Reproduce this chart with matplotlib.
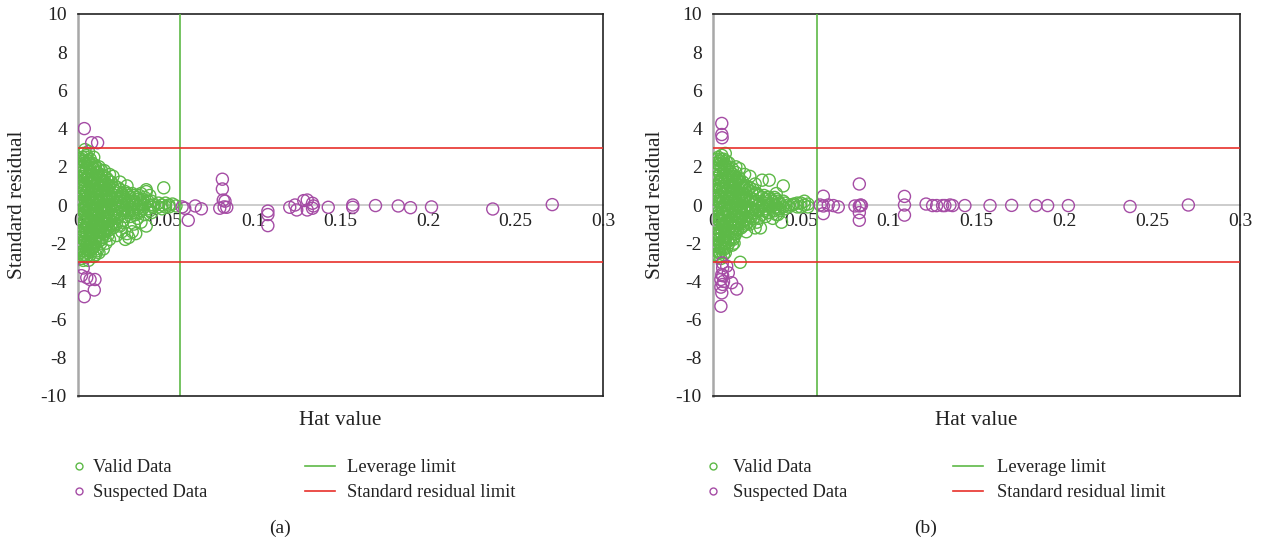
import matplotlib
matplotlib.use('Agg')
import matplotlib.pyplot as plt
from matplotlib.lines import Line2D

plt.rcParams['font.family'] = ['Liberation Serif', 'DejaVu Serif']
plt.rcParams['axes.unicode_minus'] = False

GREEN = '#5db947'
PURPLE = '#a54ca5'
RED = '#e8302a'
GRAY = '#a8a8a8'
ZERO_GRAY = '#c8c8c8'
TXT = '#222222'

x_ticks = [0, 0.05, 0.1, 0.15, 0.2, 0.25, 0.3]
x_tick_labels = ['0', '0.05', '0.1', '0.15', '0.2', '0.25', '0.3']
y_ticks = [-10, -8, -6, -4, -2, 0, 2, 4, 6, 8, 10]
y_tick_labels = ['-10', '-8', '-6', '-4', '-2', '0', '2', '4', '6', '8', '10']

leverage_limit_a = 0.058
leverage_limit_b = 0.059
residual_limit = 3.0

# ---------------- Panel (a) ----------------
valid_a_hat = [
    0.000, 0.000, 0.000,
    0.001, 0.001, 0.001, 0.001, 0.001, 0.001, 0.001, 0.001,
    0.002, 0.002, 0.002, 0.002, 0.002, 0.002, 0.002, 0.002, 0.002,
    0.003, 0.003, 0.003, 0.003, 0.003, 0.003, 0.003, 0.003, 0.003,
    0.004, 0.004, 0.004, 0.004, 0.004, 0.004, 0.004, 0.004, 0.004,
    0.005, 0.005, 0.005, 0.005, 0.005, 0.005, 0.005, 0.005, 0.005,
    0.006, 0.006, 0.006, 0.006, 0.006, 0.006, 0.006, 0.006, 0.006, 0.006,
    0.007, 0.007, 0.007, 0.007, 0.007, 0.007, 0.007, 0.007,
    0.008, 0.008, 0.008, 0.008, 0.008, 0.008, 0.008, 0.008,
    0.009, 0.009, 0.009, 0.009, 0.009, 0.009, 0.009, 0.009, 0.009,
    0.010, 0.010, 0.010, 0.010, 0.010, 0.010, 0.010,
    0.011, 0.011, 0.011, 0.011, 0.011, 0.011, 0.011,
    0.012, 0.012, 0.012, 0.012, 0.012, 0.012, 0.012,
    0.013, 0.013, 0.013, 0.013, 0.013, 0.013, 0.013,
    0.014, 0.014, 0.014, 0.014, 0.014, 0.014,
    0.015, 0.015, 0.015, 0.015, 0.015, 0.015,
    0.016, 0.016, 0.016, 0.016, 0.016,
    0.017, 0.017, 0.017, 0.017, 0.017, 0.017,
    0.018, 0.018, 0.018, 0.018, 0.018,
    0.019, 0.019, 0.019, 0.019, 0.019,
    0.020, 0.020, 0.020, 0.020, 0.020,
    0.022, 0.022, 0.022, 0.022, 0.022,
    0.024, 0.024, 0.024, 0.024, 0.024,
    0.026, 0.026, 0.026, 0.026,
    0.027,
    0.028, 0.028, 0.028, 0.028,
    0.030, 0.030, 0.030,
    0.031,
    0.032, 0.032, 0.032,
    0.034, 0.034, 0.034,
    0.036, 0.036, 0.036,
    0.038, 0.038, 0.038,
    0.039, 0.039,
    0.040, 0.040,
    0.043, 0.043,
    0.046, 0.046,
    0.048, 0.048,
    0.049,
    0.050, 0.050,
    0.052, 0.052,
    0.054,
    0.056,
    0.0015, 0.0015, 0.0015, 0.0015, 0.0015, 0.0015,
    0.0025, 0.0025, 0.0025, 0.0025, 0.0025, 0.0025, 0.0025,
    0.0035, 0.0035, 0.0035, 0.0035, 0.0035, 0.0035, 0.0035,
    0.0045, 0.0045, 0.0045, 0.0045, 0.0045, 0.0045,
    0.0055, 0.0055, 0.0055, 0.0055, 0.0055, 0.0055, 0.0055,
    0.0065, 0.0065, 0.0065, 0.0065, 0.0065,
    0.0075, 0.0075, 0.0075, 0.0075, 0.0075, 0.0075, 0.0075,
    0.0085, 0.0085, 0.0085, 0.0085, 0.0085, 0.0085,
    0.0095, 0.0095, 0.0095, 0.0095, 0.0095, 0.0095,
    0.0105, 0.0105, 0.0105, 0.0105, 0.0105, 0.0105, 0.0105,
    0.0115, 0.0115, 0.0115, 0.0115, 0.0115,
    0.0125, 0.0125, 0.0125, 0.0125, 0.0125,
    0.0135, 0.0135, 0.0135, 0.0135, 0.0135, 0.0135,
    0.0145, 0.0145, 0.0145, 0.0145, 0.0145,
    0.0155, 0.0155, 0.0155, 0.0155, 0.0155,
    0.0165, 0.0165, 0.0165, 0.0165, 0.0165,
    0.0175, 0.0175, 0.0175, 0.0175, 0.0175,
    0.021, 0.021, 0.021, 0.021, 0.021,
    0.023, 0.023, 0.023, 0.023,
    0.025, 0.025, 0.025, 0.025,
    0.027, 0.027, 0.027, 0.027,
    0.029, 0.029, 0.029, 0.029,
    0.031, 0.031, 0.031,
    0.033, 0.033, 0.033, 0.033,
    0.035, 0.035, 0.035,
    0.037, 0.037,
    0.041, 0.041, 0.041,
    0.042, 0.042,
    0.0145, 0.016, 0.018, 0.018, 0.022, 0.025, 0.028, 0.032,
    0.036, 0.039, 0.010, 0.012, 0.015, 0.020, 0.024,
]
valid_a_res = [
    0.0, 0.3, -0.4,
    1.8, 1.2, 0.6, -0.8, -1.4, -2.0, 2.3, -2.5,
    2.4, 1.5, 0.9, 0.1, -0.5, -1.1, -1.7, -2.2, -2.8,
    2.7, 2.0, 1.3, 0.5, -0.2, -0.9, -1.6, -2.4, -2.9,
    2.9, 2.2, 1.7, 1.0, 0.3, -0.4, -1.2, -1.9, -2.6,
    2.6, 1.9, 1.2, 0.7, 0.0, -0.7, -1.4, -2.1, -2.7,
    2.8, 2.3, 1.5, 0.8, 0.2, -0.6, -1.0, -1.8, -2.4, -2.9,
    2.4, 1.8, 1.1, 0.4, -0.3, -1.3, -2.0, -2.6,
    2.2, 1.6, 0.9, 0.1, -0.5, -1.1, -1.7, -2.3,
    2.5, 1.9, 1.3, 0.6, -0.2, -0.9, -1.5, -2.2, -2.7,
    2.0, 1.4, 0.8, 0.0, -0.7, -1.3, -2.0,
    1.7, 1.1, 0.4, -0.4, -1.0, -1.6, -2.4,
    2.0, 1.5, 0.9, 0.2, -0.5, -1.2, -1.9,
    1.6, 1.0, 0.5, -0.1, -0.8, -1.4, -2.0,
    1.3, 0.7, 0.0, -0.6, -1.1, -1.7,
    1.5, 0.9, 0.3, -0.3, -0.9, -1.5,
    1.1, 0.5, -0.1, -0.7, -1.3,
    1.3, 0.8, 0.2, -0.4, -1.0, -1.6,
    1.0, 0.4, -0.2, -0.8, -1.3,
    1.2, 0.6, 0.0, -0.5, -1.1,
    0.9, 0.3, -0.3, -0.9, -1.2,
    0.7, 0.2, -0.2, -0.7, -1.0,
    0.8, 0.4, -0.1, -0.5, -1.1,
    0.5, 0.0, -0.4, -0.8,
    -1.8,
    0.6, 0.1, -0.3, -1.5,
    0.4, -0.1, -0.6,
    -1.4,
    0.5, 0.0, -0.4,
    0.3, -0.2, -0.7,
    0.6, 0.1, -0.3,
    0.4, 0.0, -0.5,
    -1.1, 0.7,
    0.2, -0.2,
    0.0, -0.1,
    0.1, -0.1,
    0.0, -0.2,
    0.9,
    0.1, -0.1,
    0.0, -0.1,
    0.05,
    -0.05,
    2.0, 1.0, 0.2, -0.6, -1.5, -2.3,
    2.5, 1.7, 0.7, -0.3, -1.3, -2.0, -2.6,
    2.3, 1.5, 0.8, -0.1, -1.0, -1.8, -2.7,
    2.5, 1.4, 0.5, -0.6, -1.5, -2.3,
    2.2, 1.5, 0.4, -0.3, -1.1, -1.9, -2.5,
    2.0, 1.2, 0.0, -1.4, -2.2,
    2.1, 1.4, 0.7, 0.0, -0.8, -1.6, -2.3,
    1.9, 1.2, 0.4, -0.3, -1.4, -2.0,
    2.1, 1.0, 0.3, -0.5, -1.2, -1.8,
    1.7, 1.1, 0.4, -0.3, -1.0, -1.7, -2.3,
    1.9, 0.8, 0.0, -0.8, -1.4,
    1.3, 0.6, -0.2, -1.0, -1.6,
    1.8, 1.2, 0.3, -0.4, -1.1, -1.8,
    1.0, 0.4, -0.3, -0.9, -1.4,
    1.2, 0.6, 0.0, -0.6, -1.2,
    1.4, 0.8, 0.3, -0.4, -1.0,
    1.0, 0.5, -0.1, -0.7, -1.2,
    1.0, 0.5, 0.0, -0.5, -1.0,
    0.9, 0.4, -0.1, -0.6,
    0.6, 0.2, -0.3, -0.9,
    0.7, 0.3, -0.2, -0.6,
    0.5, 0.2, -0.4, -1.7,
    0.6, 0.2, -0.3,
    0.4, 0.1, -0.5, -1.5,
    0.5, 0.0, -0.4,
    0.3, -0.2,
    0.5, 0.0, -0.3,
    0.2, -0.4,
    -2.3, -2.0, 1.6, -1.8, -1.6, -1.4, 1.0, -1.0,
    -0.9, 0.8, -2.6, -2.5, 1.8, 1.5, 1.2,
]

suspect_a_hat = [
    0.0036, 0.0078, 0.0112,
    0.0020, 0.0030, 0.0050, 0.0069, 0.0097, 0.0036, 0.0093,
    0.0595, 0.0610, 0.0630, 0.0670, 0.0705,
    0.0810, 0.0825, 0.0825, 0.0830, 0.0835, 0.0840, 0.0850,
    0.1085, 0.1085, 0.1085,
    0.1210, 0.1240, 0.1250, 0.1290, 0.1310, 0.1310, 0.1340, 0.1340, 0.1345,
    0.1430, 0.1570, 0.1570, 0.1700, 0.1830, 0.1900, 0.2020, 0.2370, 0.2710,
]
suspect_a_res = [
    4.0, 3.26, 3.26,
    -3.7, -3.3, -3.8, -3.9, -3.9, -4.8, -4.45,
    -0.1, -0.17, -0.8, -0.05, -0.2,
    -0.17, 1.35, 0.84, 0.26, -0.1, 0.2, -0.12,
    -0.32, -0.5, -1.08,
    -0.12, 0.0, -0.26, 0.23, 0.26, -0.26, 0.09, -0.17, -0.05,
    -0.12, 0.0, -0.12, -0.03, -0.05, -0.14, -0.1, -0.21, 0.02,
]

# ---------------- Panel (b) ----------------
valid_b_hat = [
    0.000, 0.000, 0.000,
    0.001, 0.001, 0.001, 0.001, 0.001, 0.001,
    0.002, 0.002, 0.002, 0.002, 0.002, 0.002, 0.002,
    0.003, 0.003, 0.003, 0.003, 0.003, 0.003, 0.003, 0.003, 0.003,
    0.004, 0.004, 0.004, 0.004, 0.004, 0.004, 0.004, 0.004,
    0.005, 0.005, 0.005, 0.005, 0.005, 0.005, 0.005, 0.005,
    0.006, 0.006, 0.006, 0.006, 0.006, 0.006, 0.006, 0.006,
    0.007, 0.007, 0.007, 0.007, 0.007, 0.007, 0.007, 0.007, 0.007,
    0.008, 0.008, 0.008, 0.008, 0.008, 0.008, 0.008,
    0.009, 0.009, 0.009, 0.009, 0.009, 0.009, 0.009,
    0.010, 0.010, 0.010, 0.010, 0.010, 0.010,
    0.011, 0.011, 0.011, 0.011, 0.011, 0.011, 0.011,
    0.012, 0.012, 0.012, 0.012, 0.012, 0.012,
    0.013, 0.013, 0.013, 0.013, 0.013, 0.013,
    0.014, 0.014, 0.014, 0.014, 0.014,
    0.015, 0.015, 0.015, 0.015, 0.015, 0.0155,
    0.016, 0.016, 0.016, 0.016, 0.016,
    0.017, 0.017, 0.017, 0.017, 0.017,
    0.018, 0.018, 0.018, 0.018,
    0.019, 0.019, 0.019, 0.019, 0.019,
    0.020, 0.020, 0.020, 0.020,
    0.022, 0.022, 0.022, 0.022,
    0.024, 0.024, 0.024, 0.024,
    0.026, 0.026, 0.026, 0.026,
    0.027,
    0.028, 0.028, 0.028, 0.028,
    0.030, 0.030, 0.030,
    0.032, 0.032, 0.032, 0.032,
    0.034, 0.034,
    0.036, 0.036, 0.036,
    0.038, 0.038,
    0.039,
    0.040, 0.040, 0.040,
    0.043, 0.043,
    0.046,
    0.050, 0.050,
    0.052, 0.052,
    0.054, 0.054,
    0.0015, 0.0015, 0.0015, 0.0015, 0.0015, 0.0015,
    0.0025, 0.0025, 0.0025, 0.0025, 0.0025, 0.0025,
    0.0035, 0.0035, 0.0035, 0.0035, 0.0035, 0.0035,
    0.0045, 0.0045, 0.0045, 0.0045, 0.0045, 0.0045, 0.0045,
    0.0055, 0.0055, 0.0055, 0.0055, 0.0055, 0.0055,
    0.0065, 0.0065, 0.0065, 0.0065, 0.0065, 0.0065,
    0.0075, 0.0075, 0.0075, 0.0075, 0.0075, 0.0075,
    0.0085, 0.0085, 0.0085, 0.0085, 0.0085, 0.0085,
    0.0095, 0.0095, 0.0095, 0.0095, 0.0095, 0.0095,
    0.0105, 0.0105, 0.0105, 0.0105, 0.0105,
    0.0115, 0.0115, 0.0115, 0.0115, 0.0115, 0.0115,
    0.0125, 0.0125, 0.0125, 0.0125, 0.0125,
    0.0135, 0.0135, 0.0135, 0.0135, 0.0135,
    0.0145, 0.0145, 0.0145, 0.0145,
    0.0155, 0.0155, 0.0155, 0.0155,
    0.0165, 0.0165, 0.0165, 0.0165,
    0.0175, 0.0175, 0.0175, 0.0175,
    0.021, 0.021, 0.021, 0.021, 0.021,
    0.023, 0.023, 0.023, 0.023,
    0.025, 0.025, 0.025, 0.025,
    0.029, 0.029, 0.029,
    0.031, 0.031, 0.031,
    0.033, 0.033,
    0.035, 0.035, 0.035,
    0.037, 0.037, 0.037,
    0.041, 0.041,
    0.045,
    0.048, 0.048,
    0.015, 0.018, 0.021, 0.013, 0.024, 0.019, 0.012, 0.036, 0.034,
]
valid_b_res = [
    0.0, 0.5, -0.6,
    1.6, 1.0, 0.3, -0.9, -1.5, -2.1,
    2.2, 1.4, 0.7, -0.2, -1.2, -1.8, -2.4,
    2.5, 1.8, 1.1, 0.4, -0.4, -1.0, -1.6, -2.2, -2.7,
    2.3, 1.6, 0.9, 0.1, -0.7, -1.4, -2.0, -2.5,
    2.6, 2.0, 1.3, 0.6, -0.1, -0.8, -1.5, -2.3,
    2.4, 1.7, 1.0, 0.3, -0.5, -1.1, -1.8, -2.6,
    2.7, 2.1, 1.4, 0.7, 0.0, -0.6, -1.3, -2.0, -2.5,
    1.9, 1.2, 0.5, -0.3, -0.9, -1.6, -2.2,
    2.2, 1.5, 0.8, 0.1, -0.6, -1.4, -2.0,
    1.7, 1.0, 0.3, -0.4, -1.1, -1.8,
    1.9, 1.3, 0.6, -0.2, -0.8, -1.5, -2.1,
    1.5, 0.9, 0.2, -0.5, -1.2, -1.7,
    1.7, 1.1, 0.4, -0.2, -0.9, -1.5,
    1.3, 0.7, 0.0, -0.6, -1.3,
    1.4, 0.8, 0.3, -0.4, -1.0, -3.0,
    1.1, 0.5, -0.1, -0.7, -1.2,
    1.2, 0.6, 0.1, -0.5, -1.1,
    0.9, 0.4, -0.2, -0.8,
    1.0, 0.5, -0.1, -0.6, -1.0,
    0.8, 0.2, -0.3, -0.9,
    0.7, 0.3, -0.2, -0.6,
    0.6, 0.1, -0.4, -1.2,
    0.5, 0.0, -0.3, -0.7,
    -1.2,
    1.3, 0.4, -0.1, -0.5,
    0.3, -0.2, -0.6,
    1.3, 0.4, 0.0, -0.4,
    0.2, -0.3,
    0.3, -0.1, -0.5,
    0.1, -0.2,
    -0.9,
    1.0, 0.2, -0.1,
    0.0, -0.1,
    0.05,
    0.1, -0.1,
    0.0, 0.2,
    -0.1, 0.05,
    1.9, 0.8, -0.3, -1.2, -2.0, -2.6,
    2.4, 1.5, 0.5, -0.6, -1.5, -2.2,
    2.1, 1.2, 0.2, -0.8, -1.8, -2.5,
    2.4, 1.3, 0.4, -0.4, -1.2, -2.2, -2.8,
    2.2, 1.5, 0.8, -0.4, -1.1, -1.9,
    2.0, 1.2, 0.0, -0.8, -1.5, -2.3,
    2.3, 1.6, 0.4, -0.3, -1.0, -1.7,
    2.0, 1.3, 0.3, -0.6, -1.3, -1.9,
    1.8, 1.0, 0.4, -0.3, -1.0, -1.7,
    1.5, 0.7, -0.1, -0.8, -1.4,
    1.6, 1.0, 0.2, -0.5, -1.2, -1.8,
    1.2, 0.5, -0.2, -0.9, -1.5,
    1.4, 0.7, 0.0, -0.6, -1.2,
    1.0, 0.4, -0.3, -0.9,
    1.2, 0.5, -0.1, -0.7,
    0.9, 0.3, -0.4, -0.9,
    1.0, 0.4, -0.2, -0.8,
    0.9, 0.4, -0.1, -0.6, -1.0,
    0.8, 0.3, -0.2, -0.7,
    0.6, 0.2, -0.3, -0.9,
    0.5, 0.1, -0.3,
    0.4, 0.0, -0.4,
    0.3, -0.1,
    0.4, 0.0, -0.3,
    0.2, -0.2, -0.5,
    0.1, -0.2,
    0.0,
    -0.1, 0.1,
    1.9, 1.6, 1.5, 2.0, 1.1, -1.4, -2.0, 0.6, -0.7,
]

suspect_b_hat = [
    0.0050, 0.0050, 0.0052,
    0.0053, 0.0055, 0.0078, 0.0050, 0.0055, 0.0045, 0.0060, 0.0055, 0.0045,
    0.0106, 0.0050, 0.0135, 0.0045, 0.0087,
    0.0610, 0.0628, 0.0628, 0.0628, 0.0656, 0.0685, 0.0713,
    0.0808, 0.0833, 0.0833, 0.0840, 0.0845, 0.0833, 0.0833,
    0.1090, 0.1090, 0.1090,
    0.1213, 0.1250, 0.1273, 0.1307, 0.1320, 0.1349, 0.1364,
    0.1434, 0.1577, 0.1700, 0.1838, 0.1905, 0.2023, 0.2374, 0.2706,
]
suspect_b_res = [
    4.27, 3.69, 3.52,
    -3.03, -3.3, -3.2, -3.64, -3.7, -3.9, -4.0, -4.16, -4.3,
    -4.07, -4.6, -4.4, -5.3, -3.55,
    0.0, 0.46, -0.05, -0.45, 0.0, -0.03, -0.1,
    -0.05, 1.1, -0.05, 0.0, -0.02, -0.4, -0.8,
    0.45, 0.0, -0.53,
    0.05, -0.03, -0.03, -0.03, -0.03, 0.0, -0.03,
    -0.03, -0.03, -0.02, -0.03, -0.03, -0.03, -0.08, 0.0,
]

W, H = 1261, 546
fig = plt.figure(figsize=(W / 100, H / 100), dpi=100)

FS_TICK = 14
FS_LABEL = 15.3
FS_LEG = 13.3
MS = 75  # scatter marker area


def px_ax(x0, x1, y0, y1):
    return [x0 / W, 1 - y1 / H, (x1 - x0) / W, (y1 - y0) / H]


def make_panel(rect, valid_h, valid_r, sus_h, sus_r, lev, caption, cap_x,
               leg1_xy, leg2_xy, pad1, pad2, ylab_x):
    ax = fig.add_axes(rect)
    ax.set_xlim(0, 0.3)
    ax.set_ylim(-10, 10)
    ax.scatter(valid_h, valid_r, s=MS, facecolors='none', edgecolors=GREEN,
               linewidths=1.0, zorder=3)
    ax.scatter(sus_h, sus_r, s=MS, facecolors='none', edgecolors=PURPLE,
               linewidths=1.0, zorder=3)
    ax.axvline(lev, color=GREEN, lw=1.2, zorder=4)
    ax.axhline(residual_limit, color=RED, lw=1.2, zorder=4)
    ax.axhline(-residual_limit, color=RED, lw=1.2, zorder=4)
    ax.axhline(-10, color=TXT, lw=1.2, clip_on=False, zorder=5)

    ax.spines['bottom'].set_position(('data', 0))
    ax.spines['bottom'].set_color(ZERO_GRAY)
    ax.spines['bottom'].set_linewidth(1.3)
    ax.spines['bottom'].set_zorder(2)
    ax.spines['left'].set_color(GRAY)
    ax.spines['left'].set_linewidth(1.8)
    for s in ('top', 'right'):
        ax.spines[s].set_color(TXT)
        ax.spines[s].set_linewidth(1.2)

    ax.set_xticks(x_ticks)
    ax.set_xticklabels(x_tick_labels, fontsize=FS_TICK, color=TXT)
    ax.set_yticks(y_ticks)
    ax.set_yticklabels(y_tick_labels, fontsize=FS_TICK, color=TXT)
    ax.tick_params(axis='x', length=0, pad=6)
    ax.tick_params(axis='y', length=0, pad=8)

    ax.text(0.5, -0.063, 'Hat value', transform=ax.transAxes, ha='center',
            va='center', fontsize=FS_LABEL, color=TXT)
    fig.text(ylab_x / W, 1 - 205 / H, 'Standard residual', rotation=90,
             ha='center', va='center', fontsize=FS_LABEL, color=TXT)
    fig.text(cap_x / W, 1 - 528 / H, caption, ha='center', va='center',
             fontsize=FS_TICK, color=TXT)

    h1 = [Line2D([], [], ls='none', marker='o', markersize=5,
                 markerfacecolor='none', markeredgecolor=GREEN, mew=1.0),
          Line2D([], [], ls='none', marker='o', markersize=5,
                 markerfacecolor='none', markeredgecolor=PURPLE, mew=1.0)]
    leg1 = ax.legend(h1, ['Valid Data', 'Suspected Data'], loc='upper left',
                     bbox_to_anchor=(leg1_xy[0] / W, 1 - leg1_xy[1] / H),
                     bbox_transform=fig.transFigure, frameon=False,
                     fontsize=FS_LEG, handlelength=0.7, handletextpad=pad1,
                     labelspacing=0.45, borderpad=0, borderaxespad=0)
    for t in leg1.get_texts():
        t.set_color(TXT)
    ax.add_artist(leg1)
    h2 = [Line2D([], [], color=GREEN, lw=1.2),
          Line2D([], [], color=RED, lw=1.2)]
    leg2 = ax.legend(h2, ['Leverage limit', 'Standard residual limit'],
                     loc='upper left',
                     bbox_to_anchor=(leg2_xy[0] / W, 1 - leg2_xy[1] / H),
                     bbox_transform=fig.transFigure, frameon=False,
                     fontsize=FS_LEG, handlelength=1.6, handletextpad=pad2,
                     labelspacing=0.45, borderpad=0, borderaxespad=0)
    for t in leg2.get_texts():
        t.set_color(TXT)
    return ax


make_panel(px_ax(78, 603, 14, 396), valid_a_hat, valid_a_res,
           suspect_a_hat, suspect_a_res, leverage_limit_a, '(a)', 280,
           (73, 459), (305, 459), 0.4, 0.65, 18)
make_panel(px_ax(713, 1240, 14, 396), valid_b_hat, valid_b_res,
           suspect_b_hat, suspect_b_res, leverage_limit_b, '(b)', 926,
           (707, 459), (953, 459), 0.7, 0.8, 655)

fig.savefig('out.png', dpi=100)
